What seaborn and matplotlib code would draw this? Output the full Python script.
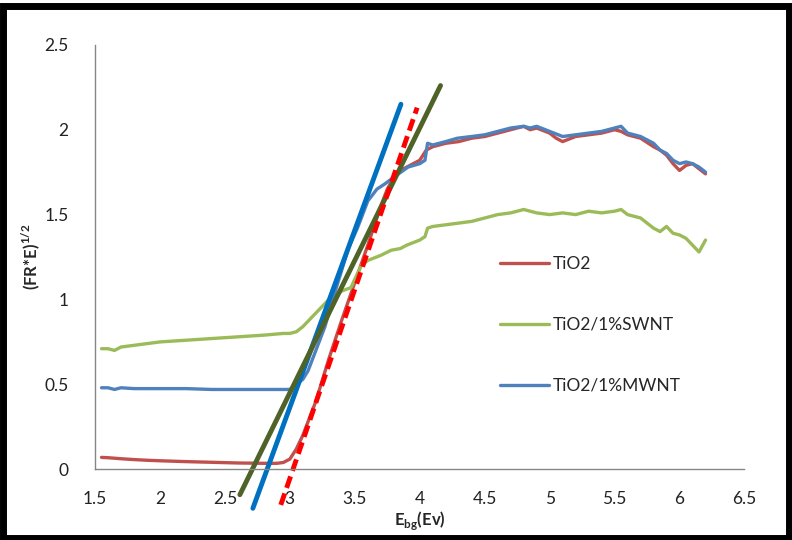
import matplotlib
matplotlib.use("Agg")
import matplotlib.pyplot as plt
import seaborn as sns
import pandas as pd
from matplotlib.patches import Rectangle

# ---------------- data ----------------
tio2_x = [1.55, 1.6, 1.7, 1.8, 1.9, 2.0, 2.2, 2.4, 2.6, 2.8, 2.9, 2.95, 3.0, 3.05, 3.1, 3.2, 3.3,
          3.4, 3.5, 3.6, 3.7, 3.75, 3.8, 3.85, 3.9, 3.95, 4.0, 4.05, 4.1, 4.2, 4.3, 4.4, 4.5,
          4.6, 4.7, 4.75, 4.8, 4.85, 4.9, 5.0, 5.05, 5.1, 5.2, 5.3, 5.4, 5.5, 5.55, 5.6, 5.7,
          5.8, 5.85, 5.9, 5.95, 6.0, 6.05, 6.1, 6.15, 6.2]
tio2_y = [0.07, 0.068, 0.062, 0.057, 0.053, 0.05, 0.045, 0.041, 0.037, 0.035, 0.035, 0.04, 0.06, 0.12,
          0.2, 0.4, 0.65, 0.88, 1.1, 1.32, 1.55, 1.65, 1.72, 1.76, 1.78, 1.8, 1.82, 1.88, 1.9,
          1.92, 1.93, 1.95, 1.96, 1.98, 2.0, 2.01, 2.02, 2.0, 2.01, 1.98, 1.95, 1.93, 1.96,
          1.97, 1.98, 2.0, 1.99, 1.97, 1.95, 1.9, 1.88, 1.85, 1.8, 1.76, 1.79, 1.8, 1.77, 1.74]

swnt_x = [1.55, 1.6, 1.65, 1.7, 1.8, 1.9, 2.0, 2.2, 2.4, 2.6, 2.8, 2.95, 3.0, 3.05, 3.1, 3.15, 3.2,
          3.3, 3.4, 3.47, 3.5, 3.55, 3.6, 3.7, 3.78, 3.85, 3.9, 4.0, 4.04, 4.06, 4.1, 4.2, 4.3,
          4.4, 4.5, 4.6, 4.7, 4.8, 4.85, 4.9, 5.0, 5.1, 5.2, 5.3, 5.4, 5.5, 5.55, 5.6, 5.7, 5.75,
          5.8, 5.85, 5.9, 5.95, 6.0, 6.05, 6.1, 6.15, 6.2]
swnt_y = [0.71, 0.71, 0.7, 0.72, 0.73, 0.74, 0.75, 0.76, 0.77, 0.78, 0.79, 0.8, 0.8, 0.81, 0.84,
          0.88, 0.92, 1.0, 1.05, 1.07, 1.12, 1.2, 1.23, 1.26, 1.29, 1.3, 1.32, 1.35, 1.37, 1.42,
          1.43, 1.44, 1.45, 1.46, 1.48, 1.5, 1.51, 1.53, 1.52, 1.51, 1.5, 1.51, 1.5, 1.52, 1.51,
          1.52, 1.53, 1.5, 1.48, 1.45, 1.42, 1.4, 1.43, 1.39, 1.38, 1.36, 1.32, 1.28, 1.35]

mwnt_x = [1.55, 1.6, 1.65, 1.7, 1.8, 2.0, 2.2, 2.4, 2.6, 2.8, 2.95, 3.0, 3.05, 3.1, 3.14, 3.2, 3.27,
          3.35, 3.45, 3.52, 3.6, 3.67, 3.73, 3.8, 3.91, 4.0, 4.04, 4.06, 4.1, 4.2, 4.29, 4.4,
          4.5, 4.6, 4.7, 4.8, 4.85, 4.9, 5.0, 5.1, 5.2, 5.3, 5.4, 5.5, 5.55, 5.6, 5.7, 5.8,
          5.85, 5.9, 5.95, 6.0, 6.05, 6.1, 6.15, 6.2]
mwnt_y = [0.48, 0.48, 0.47, 0.48, 0.475, 0.475, 0.475, 0.47, 0.47, 0.47, 0.47, 0.47, 0.5, 0.53,
          0.58, 0.7, 0.84, 1.05, 1.3, 1.42, 1.58, 1.65, 1.68, 1.72, 1.78, 1.8, 1.82, 1.92,
          1.91, 1.93, 1.95, 1.96, 1.97, 1.99, 2.01, 2.02, 2.01, 2.02, 1.99, 1.96, 1.97, 1.98,
          1.99, 2.01, 2.02, 1.98, 1.96, 1.92, 1.88, 1.86, 1.82, 1.8, 1.81, 1.8, 1.78, 1.75]

# tangent (extrapolation) lines: endpoints
tan_blue_x = [2.715, 3.855]
tan_blue_y = [-0.23, 2.15]
tan_green_x = [2.615, 4.16]
tan_green_y = [-0.15, 2.26]
tan_red_x = [2.93, 3.98]
tan_red_y = [-0.21, 2.13]

labels = ["TiO2", "TiO2/1%SWNT", "TiO2/1%MWNT"]
x_ticks = [1.5, 2, 2.5, 3, 3.5, 4, 4.5, 5, 5.5, 6, 6.5]
y_ticks = [0, 0.5, 1, 1.5, 2, 2.5]

# ---------------- style ----------------
sns.set_theme(style="white")
plt.rcParams["font.family"] = ["Lato", "DejaVu Sans"]
plt.rcParams["mathtext.fontset"] = "custom"
plt.rcParams["mathtext.rm"] = "Lato"
plt.rcParams["mathtext.bf"] = "Lato:bold"

fig = plt.figure(figsize=(7.92, 5.40), dpi=100)
ax = fig.add_axes([0.12, 0.131, 0.82, 0.786])

df = pd.concat([
    pd.DataFrame({"x": tio2_x, "y": tio2_y, "s": labels[0]}),
    pd.DataFrame({"x": swnt_x, "y": swnt_y, "s": labels[1]}),
    pd.DataFrame({"x": mwnt_x, "y": mwnt_y, "s": labels[2]}),
])
palette = {labels[0]: "#C0504D", labels[1]: "#9BBB59", labels[2]: "#4F81BD"}
sns.lineplot(data=df, x="x", y="y", hue="s", palette=palette, linewidth=2.4,
             ax=ax, sort=False, estimator=None)

sns.lineplot(x=tan_blue_x, y=tan_blue_y, ax=ax, color="#0070C0", linewidth=3.5,
             estimator=None, sort=False, clip_on=False, legend=False)
sns.lineplot(x=tan_green_x, y=tan_green_y, ax=ax, color="#4F6228", linewidth=3.5,
             estimator=None, sort=False, clip_on=False, legend=False)
sns.lineplot(x=tan_red_x, y=tan_red_y, ax=ax, color="#FF0000", linewidth=3.5,
             linestyle=(0, (2.5, 1.2)), estimator=None, sort=False, clip_on=False, legend=False)

ax.set_xlim(1.5, 6.5)
ax.set_ylim(0, 2.5)
ax.set_xticks(x_ticks)
ax.set_xticklabels([f"{t:g}" for t in x_ticks])
ax.set_yticks(y_ticks)
ax.set_yticklabels([f"{t:g}" for t in y_ticks])

for s in ["top", "right"]:
    ax.spines[s].set_visible(False)
for s in ["left", "bottom"]:
    ax.spines[s].set_color("#868686")
    ax.spines[s].set_linewidth(1.0)
ax.tick_params(axis="both", which="major", length=5, width=1.0, color="#868686",
               labelsize=12.5, labelcolor="#222222", direction="out")
ax.tick_params(axis="x", pad=11)
ax.tick_params(axis="y", pad=14)

ax.set_xlabel(r"E$_{\mathbf{bg}}$(Ev)", fontsize=12, fontweight="bold", labelpad=1)
ax.set_ylabel(r"(FR*E)$^{\mathbf{1/2}}$", fontsize=12, fontweight="bold", labelpad=2)

h, l = ax.get_legend_handles_labels()
ax.legend(h[:3], l[:3], loc="upper left", bbox_to_anchor=(0.6, 0.54), frameon=False,
          fontsize=12.5, labelspacing=2.6, handlelength=2.8, handletextpad=0.2)

fig.patches.append(Rectangle((0.004, 0.004), 0.992, 0.984, transform=fig.transFigure,
                             fill=False, edgecolor="black", linewidth=5, zorder=10))

fig.savefig("out.png", dpi=100)
